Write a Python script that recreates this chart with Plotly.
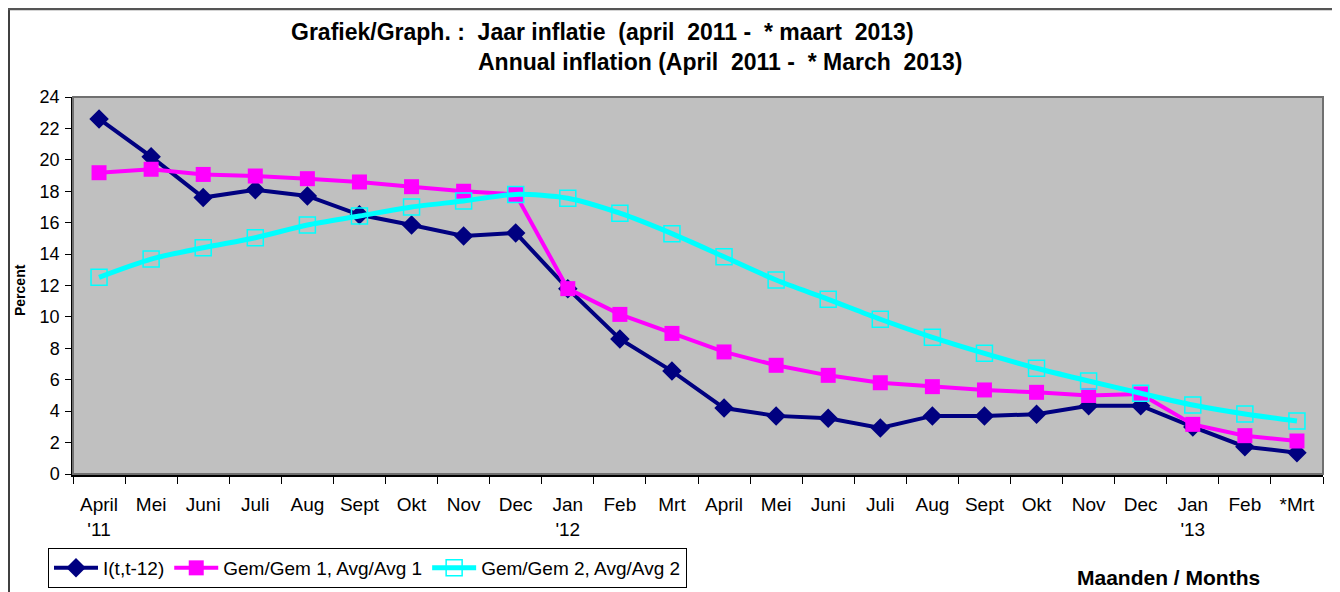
import plotly.graph_objects as go

months = ["April<br>'11", "Mei", "Juni", "Juli", "Aug", "Sept", "Okt", "Nov", "Dec",
          "Jan<br>'12", "Feb", "Mrt", "April", "Mei", "Juni", "Juli", "Aug", "Sept",
          "Okt", "Nov", "Dec", "Jan<br>'13", "Feb", "*Mrt"]

inflation_yoy = [22.6, 20.2, 17.6, 18.1, 17.7, 16.5, 15.85, 15.15, 15.35,
                 11.8, 8.6, 6.55, 4.2, 3.7, 3.55, 2.93, 3.7, 3.7,
                 3.8, 4.35, 4.35, 3.0, 1.74, 1.36]

avg1 = [19.18, 19.4, 19.07, 18.97, 18.8, 18.59, 18.29, 18.0, 17.8,
        11.8, 10.16, 8.95, 7.77, 6.92, 6.28, 5.81, 5.56, 5.35,
        5.2, 5.0, 5.09, 3.16, 2.44, 2.1]

avg2 = [12.52, 13.68, 14.4, 15.04, 15.85, 16.42, 17.0, 17.38, 17.8,
        17.55, 16.6, 15.3, 13.83, 12.35, 11.12, 9.85, 8.7, 7.68,
        6.73, 5.92, 5.14, 4.39, 3.82, 3.37]

series_names = ["I(t,t-12)", "Gem/Gem 1, Avg/Avg 1", "Gem/Gem 2, Avg/Avg 2"]
y_ticks = list(range(0, 25, 2))

# page body has an 8px margin; build the figure in page coordinates shifted by OFF
OFF = 8
W, H = 1340 - OFF, 592 - OFF
ML, MR, MT, MB = 73 - OFF, 17, 97 - OFF, 118
PW, PH = W - ML - MR, H - MT - MB


def px(xp):
    """page x pixel -> paper x"""
    return (xp - OFF - ML) / PW


def py(yp):
    """page y pixel -> paper y"""
    return (H - MB - (yp - OFF)) / PH


FONT = "Liberation Sans, Arial, sans-serif"
xpos = list(range(len(months)))

fig = go.Figure()
fig.add_trace(go.Scatter(
    x=xpos, y=inflation_yoy, name=series_names[0], mode="lines+markers",
    line=dict(color="#000080", width=4),
    marker=dict(symbol="diamond", size=15, color="#000080"),
))
fig.add_trace(go.Scatter(
    x=xpos, y=avg1, name=series_names[1], mode="lines+markers",
    line=dict(color="#FF00FF", width=4),
    marker=dict(symbol="square", size=15, color="#FF00FF"),
))
fig.add_trace(go.Scatter(
    x=xpos, y=avg2, name=series_names[2], mode="lines+markers",
    line=dict(color="#00FFFF", width=5, shape="spline", smoothing=0.8),
    marker=dict(symbol="square-open", size=16, color="#00FFFF", line=dict(width=1.5)),
))

# plot-area border (gray top/right)
fig.add_shape(type="rect", xref="paper", yref="paper", x0=0, x1=1, y0=0, y1=1,
              line=dict(color="#707070", width=2), layer="above")
# outer chart border (left & top)
fig.add_shape(type="line", xref="paper", yref="paper", x0=px(OFF + 1), x1=px(OFF + 1),
              y0=py(OFF + 1), y1=py(600), line=dict(color="#000000", width=1.5))
fig.add_shape(type="line", xref="paper", yref="paper", x0=px(OFF), x1=px(1345),
              y0=py(OFF + 1), y1=py(OFF + 1), line=dict(color="#555555", width=2.5))

title_font = dict(family=FONT, size=23, color="#000000", weight="bold")
fig.add_annotation(text="Grafiek/Graph. :\u00a0 Jaar inflatie\u00a0 (april\u00a0 2011 -\u00a0 * maart\u00a0 2013)",
                   xref="paper", yref="paper", x=px(289), y=py(32), xanchor="left",
                   yanchor="middle", showarrow=False, font=title_font)
fig.add_annotation(text="Annual inflation (April\u00a0 2011 -\u00a0 * March\u00a0 2013)",
                   xref="paper", yref="paper", x=px(476), y=py(62), xanchor="left",
                   yanchor="middle", showarrow=False, font=title_font)
fig.add_annotation(text="Percent", textangle=-90, xref="paper", yref="paper",
                   x=px(20), y=py(290), xanchor="center", yanchor="middle", showarrow=False,
                   font=dict(family=FONT, size=14, color="#000000", weight="bold"))
fig.add_annotation(text="Maanden / Months", xref="paper", yref="paper",
                   x=px(1168), y=py(577), xanchor="center", yanchor="middle", showarrow=False,
                   font=dict(family=FONT, size=21, color="#000000", weight="bold"))

fig.update_layout(
    width=W, height=H,
    margin=dict(l=ML, r=MR, t=MT, b=MB, pad=0, autoexpand=False),
    paper_bgcolor="#FFFFFF", plot_bgcolor="#C0C0C0",
    font=dict(family=FONT, color="#000000"),
    showlegend=True,
    legend=dict(orientation="h", x=px(48), y=py(548), xanchor="left", yanchor="top",
                bgcolor="#FFFFFF", bordercolor="#000000", borderwidth=1,
                font=dict(family=FONT, size=19, color="#000000"),
                itemwidth=44, tracegroupgap=0),
    xaxis=dict(range=[-0.5, len(months) - 0.5], tickmode="array", tickvals=xpos,
               ticktext=months, ticks="", showgrid=False, zeroline=False,
               showline=True, linecolor="#000000", linewidth=3,
               tickfont=dict(family=FONT, size=19, color="#000000"),
               ticklabelstandoff=11,
               minor=dict(tickmode="linear", tick0=-0.5, dtick=1, ticks="outside",
                          ticklen=7, tickcolor="#000000", tickwidth=1, showgrid=False)),
    yaxis=dict(range=[0, 24], tickmode="array", tickvals=y_ticks, ticks="outside",
               ticklen=6, tickcolor="#000000", showgrid=False, zeroline=False,
               showline=True, linecolor="#000000", linewidth=1.5,
               tickfont=dict(family=FONT, size=18, color="#000000"),
               ticklabelstandoff=2),
)

fig.write_html("out.html")
